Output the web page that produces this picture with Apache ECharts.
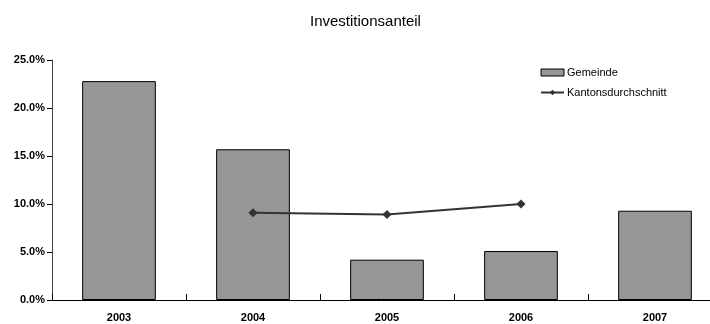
<!DOCTYPE html>
<html>
<head>
<meta charset="utf-8">
<script src="https://cdn.jsdelivr.net/npm/echarts@6/dist/echarts.min.js"></script>
<style>
  html, body { margin: 0; padding: 0; background: #fff; }
  #chart { width: 710px; height: 324px; }
</style>
</head>
<body>
<div id="chart"></div>
<script>
// Daten
const jahre = ['2003', '2004', '2005', '2006', '2007'];
const gemeinde = [22.8, 15.7, 4.2, 5.1, 9.3];
const kantonsdurchschnitt = [null, 9.1, 8.9, 10.0, null];

const chart = echarts.init(document.getElementById('chart'));

const option = {
    animation: false,
    textStyle: { fontFamily: 'Liberation Sans, Arial, sans-serif' },
    title: {
        text: 'Investitionsanteil',
        left: 305,
        top: 9,
        textStyle: { fontSize: 15, fontWeight: 'normal', color: '#000' }
    },
    legend: {
        orient: 'vertical',
        left: 535,
        top: 62,
        itemWidth: 23,
        itemHeight: 7,
        itemGap: 9,
        textStyle: { fontSize: 11, color: '#000', padding: [0, 0, 0, -2] },
        data: [
            { name: 'Gemeinde', icon: 'rect', itemStyle: { borderWidth: 1 } },
            { name: 'Kantonsdurchschnitt' }
        ]
    },
    grid: {
        left: 52,
        top: 60,
        right: -12,
        height: 240,
        containLabel: false,
        outerBoundsMode: 'none'
    },
    xAxis: {
        type: 'category',
        data: jahre,
        axisLine: { lineStyle: { color: '#000', width: 1 } },
        axisTick: { show: true, length: 6, inside: true, lineStyle: { color: '#000' } },
        axisLabel: { fontSize: 11, fontWeight: 'bold', color: '#000', margin: 12 }
    },
    yAxis: {
        type: 'value',
        min: 0,
        max: 25,
        interval: 5,
        axisLine: { show: true, lineStyle: { color: '#444', width: 1 } },
        axisTick: { show: true, length: 5, lineStyle: { color: '#000' } },
        splitLine: { show: false },
        axisLabel: {
            fontSize: 11,
            fontWeight: 'bold',
            color: '#000',
            margin: 7,
            formatter: v => v.toFixed(1) + '%'
        }
    },
    series: [
        {
            name: 'Gemeinde',
            type: 'bar',
            data: gemeinde,
            barWidth: '55%',
            itemStyle: { color: '#969696', borderColor: '#000', borderWidth: 1 }
        },
        {
            name: 'Kantonsdurchschnitt',
            type: 'line',
            data: kantonsdurchschnitt,
            symbol: 'diamond',
            symbolSize: 9,
            lineStyle: { color: '#333', width: 2 },
            itemStyle: { color: '#333' }
        }
    ]
};

chart.setOption(option);
</script>
</body>
</html>
